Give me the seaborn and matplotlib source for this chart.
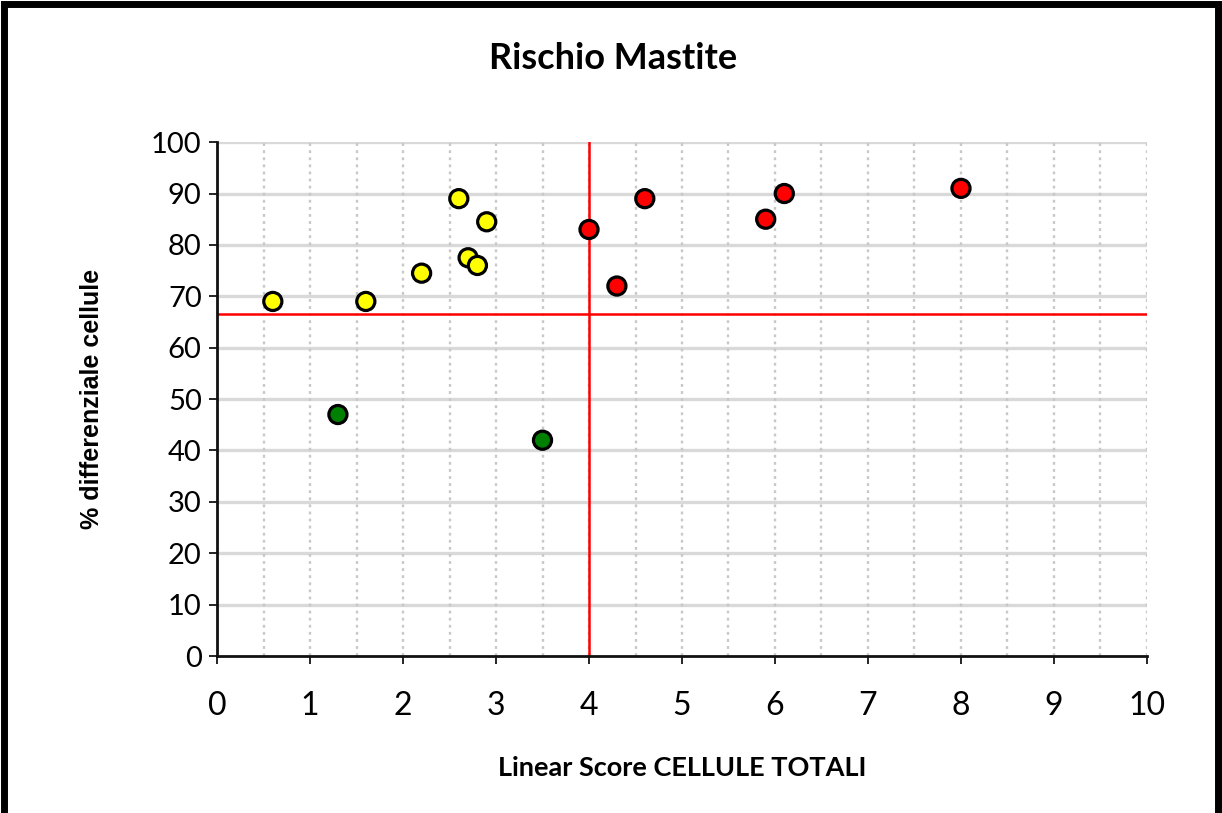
import matplotlib
matplotlib.use('Agg')
import matplotlib.pyplot as plt
import seaborn as sns
import pandas as pd
from matplotlib.patches import Rectangle
from matplotlib.ticker import MultipleLocator

# Punti
x_vals = [0.6, 1.6, 2.2, 2.6, 2.9, 2.7, 2.8, 1.3, 3.5, 4.0, 4.3, 4.6, 5.9, 6.1, 8.0]
y_vals = [69, 69, 74.5, 89, 84.5, 77.5, 76, 47, 42, 83, 72, 89, 85, 90, 91]
groups = ['giallo'] * 7 + ['verde'] * 2 + ['rosso'] * 6
palette = {'giallo': '#FFFF00', 'verde': '#008000', 'rosso': '#FF0000'}

soglia_x = 4
soglia_y = 66.5

df = pd.DataFrame({'x': x_vals, 'y': y_vals, 'gruppo': groups})

sns.set_style('white')
plt.rcParams['font.family'] = ['Lato', 'DejaVu Sans']
plt.rcParams['text.color'] = 'black'
plt.rcParams['axes.labelcolor'] = 'black'
plt.rcParams['xtick.color'] = 'black'
plt.rcParams['ytick.color'] = 'black'

fig = plt.figure(figsize=(12.22, 8.13), dpi=100)
ax = fig.add_axes([0.1776, 0.193, 0.7610, 0.6322])

# griglia
for yv in range(10, 101, 10):
    ax.axhline(yv, color='#d9d9d9', lw=2.4, zorder=0, solid_capstyle='round')
xg = [i * 0.5 for i in range(1, 21)]
for xv in xg:
    ax.axvline(xv, color='#c8c8c8', lw=1.7, ls=(0, (1.2, 1.8)), zorder=0)

ax.axvline(soglia_x, color='#ff0000', lw=1.8, zorder=1)
ax.axhline(soglia_y, color='#ff0000', lw=1.8, zorder=1)

sns.scatterplot(data=df, x='x', y='y', hue='gruppo', palette=palette,
                s=170, edgecolor='black', linewidth=2.3, legend=False,
                zorder=3, ax=ax)

ax.set_xlim(0, 10)
ax.set_ylim(0, 100)
ax.xaxis.set_major_locator(MultipleLocator(1))
ax.yaxis.set_major_locator(MultipleLocator(10))
ax.tick_params(axis='x', labelsize=23, length=6, width=1.2, pad=19, direction='out', bottom=True)
ax.tick_params(axis='y', labelsize=21, length=6, width=1.2, pad=5, direction='out', left=True)
for s in ['top', 'right']:
    ax.spines[s].set_visible(False)
for s in ['left', 'bottom']:
    ax.spines[s].set_color('#111111')
    ax.spines[s].set_linewidth(2)

ax.set_xlabel('Linear Score CELLULE TOTALI', fontsize=19.5, fontweight='bold', labelpad=25)
ax.set_ylabel('% differenziale cellule', fontsize=18, fontweight='bold', labelpad=34,
              family=['Liberation Sans', 'DejaVu Sans'])
fig.text(0.502, 0.928, 'Rischio Mastite', fontsize=26, fontweight='bold',
         ha='center', va='center')

# cornice nera attorno alla figura
fig.patches.append(Rectangle((0.003, -0.01), 0.994, 1.005, transform=fig.transFigure,
                             fill=False, edgecolor='black', lw=5))

fig.savefig('out.png', dpi=100)
